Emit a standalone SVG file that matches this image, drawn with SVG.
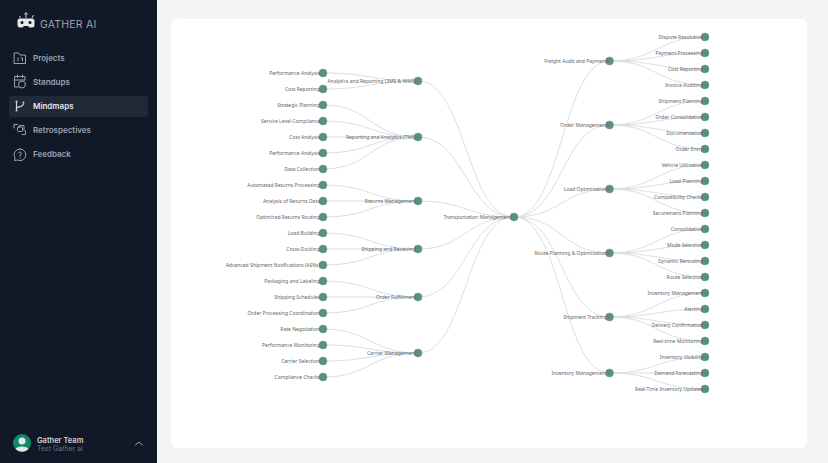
<svg xmlns="http://www.w3.org/2000/svg" width="828" height="463" viewBox="0 0 828 463">
<style>
.l{font:5px "Noto Sans",sans-serif;fill:#5f656b;text-anchor:end}
.n{fill:#5a8f82;stroke:#6f9a90;stroke-width:.5}
#links path{fill:none;stroke:#d8dfe6;stroke-width:1}
.nav{font:600 8px Inter,sans-serif;fill:#9ca3af}
.ic{fill:none;stroke:#9ca3af;stroke-width:1;stroke-linecap:round;stroke-linejoin:round}
</style>
<rect width="828" height="463" fill="#f3f4f6"/>
<rect width="157" height="463" fill="#111827"/>
<g id="logo">
<path d="M20 18.500h12a2.500 2.500 0 0 1 2.500 2.500v4a2.500 2.500 0 0 1-2.500 2.500h-2.500l-1.500-1.500h-4l-1.500 1.500H20a2.500 2.500 0 0 1-2.500-2.500v-4a2.500 2.500 0 0 1 2.500-2.500z" fill="#e5e7eb"/>
<path d="M26 18v-5M24.500 14.500l1.500-2 1.500 2M20.500 18l-1-2M32 18l1.500-3" fill="none" stroke="#d1d5db" stroke-width="1"/>
<circle cx="22" cy="22.500" r="1.500" fill="#111827"/><circle cx="30" cy="22.500" r="1.500" fill="#111827"/>
<text x="40" y="28" font-family="Inter,sans-serif" font-size="10.500" letter-spacing=".2" fill="#9ca3af">GATHER AI</text>
</g>
<g id="nav-projects">
<path class="ic" d="M14.500 53h4l1.500 2h5.500v8.500h-11z"/><path class="ic" d="M18 58v3M21 58h1.500v3"/>
<text class="nav" x="33" y="61">Projects</text></g>
<g id="nav-standups">
<path class="ic" d="M14.500 79v-2.500h10.500v3M14.500 79v8h4M14.500 80h10.500M17.500 75v2.500M22.500 75v2.500"/><circle class="ic" cx="22" cy="84.500" r="3.500"/>
<text class="nav" x="33" y="85">Standups</text></g>
<rect x="9" y="96" width="139" height="21" rx="3" fill="#1f2937"/>
<g id="nav-mindmaps">
<path d="M16.500 101.500v9M23.500 103.500c0 3-3 3-7 4" fill="none" stroke="#d1d5db" stroke-width="1.200"/><circle cx="16.500" cy="101.500" r="1" fill="#d1d5db"/><circle cx="16.500" cy="110.500" r="1" fill="#d1d5db"/><circle cx="23.500" cy="102.500" r="1" fill="#d1d5db"/>
<text class="nav" x="33" y="109" style="fill:#e5e7eb">Mindmaps</text></g>
<g id="nav-retrospectives">
<path class="ic" d="M14 128v-3.500h3.500M25.500 131v3.500H22"/><rect class="ic" x="17.500" y="127" width="5" height="4.500" rx="1"/><path class="ic" d="M19.500 127v-1.500h4.500v5"/>
<text class="nav" x="33" y="133">Retrospectives</text></g>
<g id="nav-feedback">
<path class="ic" d="M20 149a5.800 5.800 0 1 1-2.500 11l-3 .5.500-2.500a5.800 5.800 0 0 1 5-9z"/><path class="ic" d="M18.500 153a1.500 1.500 0 1 1 1.500 2v1M20 158v.2"/>
<text class="nav" x="33" y="157">Feedback</text></g>
<g id="user">
<circle cx="22" cy="443" r="9" fill="#0f8a68"/>
<circle cx="22" cy="441" r="3.500" fill="#e5e7eb"/><path d="M15.500 449c1-3.500 12-3.500 13 0a9 9 0 0 1-13 0z" fill="#e5e7eb"/>
<text x="37" y="442.500" font-family="Inter,sans-serif" font-size="7.500" font-weight="600" fill="#d1d5db">Gather Team</text>
<text x="37" y="451" font-family="Inter,sans-serif" font-size="7" fill="#6b7280">Test Gather ai</text>
<path class="ic" d="M135.500 445l3.500-3 3.500 3"/>
</g>
<rect x="171" y="19" width="636" height="429" rx="6" fill="#fff"/>
<g id="links">
<path d="M514 217C466 217 466 81 418 81M514 217C466 217 466 137 418 137M514 217C466 217 466 201 418 201M514 217C466 217 466 249 418 249M514 217C466 217 466 297 418 297M514 217C466 217 466 353 418 353"/>
<path d="M418 81C370.500 81 370.500 73 323 73M418 81C370.500 81 370.500 89 323 89"/>
<path d="M418 137C370.500 137 370.500 105 323 105M418 137C370.500 137 370.500 121 323 121M418 137H323M418 137C370.500 137 370.500 153 323 153M418 137C370.500 137 370.500 169 323 169"/>
<path d="M418 201C370.500 201 370.500 185 323 185M418 201H323M418 201C370.500 201 370.500 217 323 217"/>
<path d="M418 249C370.500 249 370.500 233 323 233M418 249H323M418 249C370.500 249 370.500 265 323 265"/>
<path d="M418 297C370.500 297 370.500 281 323 281M418 297H323M418 297C370.500 297 370.500 313 323 313"/>
<path d="M418 353C370.500 353 370.500 329 323 329M418 353C370.500 353 370.500 345 323 345M418 353C370.500 353 370.500 361 323 361M418 353C370.500 353 370.500 377 323 377"/>
<path d="M514 217C562 217 562 61 609.500 61M514 217C562 217 562 125 609.500 125M514 217C562 217 562 189 609.500 189M514 217C562 217 562 253 609.500 253M514 217C562 217 562 317 609.500 317M514 217C562 217 562 373 609.500 373"/>
<path d="M609.500 61C657 61 657 37 705 37M609.500 61C657 61 657 53 705 53M609.500 61C657 61 657 69 705 69M609.500 61C657 61 657 85 705 85"/>
<path d="M609.500 125C657 125 657 101 705 101M609.500 125C657 125 657 117 705 117M609.500 125C657 125 657 133 705 133M609.500 125C657 125 657 149 705 149"/>
<path d="M609.500 189C657 189 657 165 705 165M609.500 189C657 189 657 181 705 181M609.500 189C657 189 657 197 705 197M609.500 189C657 189 657 213 705 213"/>
<path d="M609.500 253C657 253 657 229 705 229M609.500 253C657 253 657 245 705 245M609.500 253C657 253 657 261 705 261M609.500 253C657 253 657 277 705 277"/>
<path d="M609.500 317C657 317 657 293 705 293M609.500 317C657 317 657 309 705 309M609.500 317C657 317 657 325 705 325M609.500 317C657 317 657 341 705 341"/>
<path d="M609.500 373C657 373 657 357 705 357M609.500 373H705M609.500 373C657 373 657 389 705 389"/>
</g>
<g id="root"><circle class="n" cx="514" cy="217" r="4"/><text class="l" x="511" y="219">Transportation Management</text></g>
<g id="p1"><circle class="n" cx="418" cy="81" r="4"/><text class="l" x="416" y="83">Analytics and Reporting (3MS &amp; WMS)</text></g>
<g id="p2"><circle class="n" cx="418" cy="137" r="4"/><text class="l" x="416" y="139">Reporting and Analytics (TMS)</text></g>
<g id="p3"><circle class="n" cx="418" cy="201" r="4"/><text class="l" x="416" y="203">Returns Management</text></g>
<g id="p4"><circle class="n" cx="418" cy="249" r="4"/><text class="l" x="416" y="251">Shipping and Receiving</text></g>
<g id="p5"><circle class="n" cx="418" cy="297" r="4"/><text class="l" x="416" y="299">Order Fulfillment</text></g>
<g id="p6"><circle class="n" cx="418" cy="353" r="4"/><text class="l" x="416" y="355">Carrier Management</text></g>
<g id="a1"><circle class="n" cx="323" cy="73" r="4"/><text class="l" x="320" y="75">Performance Analysis</text></g>
<g id="a2"><circle class="n" cx="323" cy="89" r="4"/><text class="l" x="320" y="91">Cost Reporting</text></g>
<g id="a3"><circle class="n" cx="323" cy="105" r="4"/><text class="l" x="320" y="107">Strategic Planning</text></g>
<g id="a4"><circle class="n" cx="323" cy="121" r="4"/><text class="l" x="320" y="123">Service Level Compliance</text></g>
<g id="a5"><circle class="n" cx="323" cy="137" r="4"/><text class="l" x="320" y="139">Cost Analysis</text></g>
<g id="a6"><circle class="n" cx="323" cy="153" r="4"/><text class="l" x="320" y="155">Performance Analysis</text></g>
<g id="a7"><circle class="n" cx="323" cy="169" r="4"/><text class="l" x="320" y="171">Data Collection</text></g>
<g id="a8"><circle class="n" cx="323" cy="185" r="4"/><text class="l" x="320" y="187">Automated Returns Processing</text></g>
<g id="a9"><circle class="n" cx="323" cy="201" r="4"/><text class="l" x="320" y="203">Analysis of Returns Data</text></g>
<g id="a10"><circle class="n" cx="323" cy="217" r="4"/><text class="l" x="320" y="219">Optimized Returns Routing</text></g>
<g id="a11"><circle class="n" cx="323" cy="233" r="4"/><text class="l" x="320" y="235">Load Building</text></g>
<g id="a12"><circle class="n" cx="323" cy="249" r="4"/><text class="l" x="320" y="251">Cross-Docking</text></g>
<g id="a13"><circle class="n" cx="323" cy="265" r="4"/><text class="l" x="320" y="267">Advanced Shipment Notifications (ASNs)</text></g>
<g id="a14"><circle class="n" cx="323" cy="281" r="4"/><text class="l" x="320" y="283">Packaging and Labeling</text></g>
<g id="a15"><circle class="n" cx="323" cy="297" r="4"/><text class="l" x="320" y="299">Shipping Schedules</text></g>
<g id="a16"><circle class="n" cx="323" cy="313" r="4"/><text class="l" x="320" y="315">Order Processing Coordination</text></g>
<g id="a17"><circle class="n" cx="323" cy="329" r="4"/><text class="l" x="320" y="331">Rate Negotiation</text></g>
<g id="a18"><circle class="n" cx="323" cy="345" r="4"/><text class="l" x="320" y="347">Performance Monitoring</text></g>
<g id="a19"><circle class="n" cx="323" cy="361" r="4"/><text class="l" x="320" y="363">Carrier Selection</text></g>
<g id="a20"><circle class="n" cx="323" cy="377" r="4"/><text class="l" x="320" y="379">Compliance Checks</text></g>
<g id="q1"><circle class="n" cx="609.500" cy="61" r="4"/><text class="l" x="607" y="63">Freight Audit and Payment</text></g>
<g id="q2"><circle class="n" cx="609.500" cy="125" r="4"/><text class="l" x="607" y="127">Order Management</text></g>
<g id="q3"><circle class="n" cx="609.500" cy="189" r="4"/><text class="l" x="607" y="191">Load Optimization</text></g>
<g id="q4"><circle class="n" cx="609.500" cy="253" r="4"/><text class="l" x="607" y="255">Route Planning &amp; Optimization</text></g>
<g id="q5"><circle class="n" cx="609.500" cy="317" r="4"/><text class="l" x="607" y="319">Shipment Tracking</text></g>
<g id="q6"><circle class="n" cx="609.500" cy="373" r="4"/><text class="l" x="607" y="375">Inventory Management</text></g>
<g id="b1"><circle class="n" cx="705" cy="37" r="4"/><text class="l" x="703" y="39">Dispute Resolution</text></g>
<g id="b2"><circle class="n" cx="705" cy="53" r="4"/><text class="l" x="703" y="55">Payment Processing</text></g>
<g id="b3"><circle class="n" cx="705" cy="69" r="4"/><text class="l" x="703" y="71">Cost Reporting</text></g>
<g id="b4"><circle class="n" cx="705" cy="85" r="4"/><text class="l" x="703" y="87">Invoice Auditing</text></g>
<g id="b5"><circle class="n" cx="705" cy="101" r="4"/><text class="l" x="703" y="103">Shipment Planning</text></g>
<g id="b6"><circle class="n" cx="705" cy="117" r="4"/><text class="l" x="703" y="119">Order Consolidation</text></g>
<g id="b7"><circle class="n" cx="705" cy="133" r="4"/><text class="l" x="703" y="135">Documentation</text></g>
<g id="b8"><circle class="n" cx="705" cy="149" r="4"/><text class="l" x="703" y="151">Order Entry</text></g>
<g id="b9"><circle class="n" cx="705" cy="165" r="4"/><text class="l" x="703" y="167">Vehicle Utilization</text></g>
<g id="b10"><circle class="n" cx="705" cy="181" r="4"/><text class="l" x="703" y="183">Load Planning</text></g>
<g id="b11"><circle class="n" cx="705" cy="197" r="4"/><text class="l" x="703" y="199">Compatibility Checks</text></g>
<g id="b12"><circle class="n" cx="705" cy="213" r="4"/><text class="l" x="703" y="215">Securement Planning</text></g>
<g id="b13"><circle class="n" cx="705" cy="229" r="4"/><text class="l" x="703" y="231">Consolidation</text></g>
<g id="b14"><circle class="n" cx="705" cy="245" r="4"/><text class="l" x="703" y="247">Mode Selection</text></g>
<g id="b15"><circle class="n" cx="705" cy="261" r="4"/><text class="l" x="703" y="263">Dynamic Rerouting</text></g>
<g id="b16"><circle class="n" cx="705" cy="277" r="4"/><text class="l" x="703" y="279">Route Selection</text></g>
<g id="b17"><circle class="n" cx="705" cy="293" r="4"/><text class="l" x="703" y="295">Inventory Management</text></g>
<g id="b18"><circle class="n" cx="705" cy="309" r="4"/><text class="l" x="703" y="311">Alerting</text></g>
<g id="b19"><circle class="n" cx="705" cy="325" r="4"/><text class="l" x="703" y="327">Delivery Confirmation</text></g>
<g id="b20"><circle class="n" cx="705" cy="341" r="4"/><text class="l" x="703" y="343">Real-time Monitoring</text></g>
<g id="b21"><circle class="n" cx="705" cy="357" r="4"/><text class="l" x="703" y="359">Inventory Visibility</text></g>
<g id="b22"><circle class="n" cx="705" cy="373" r="4"/><text class="l" x="703" y="375">Demand Forecasting</text></g>
<g id="b23"><circle class="n" cx="705" cy="389" r="4"/><text class="l" x="703" y="391">Real-Time Inventory Updates</text></g>
</svg>
